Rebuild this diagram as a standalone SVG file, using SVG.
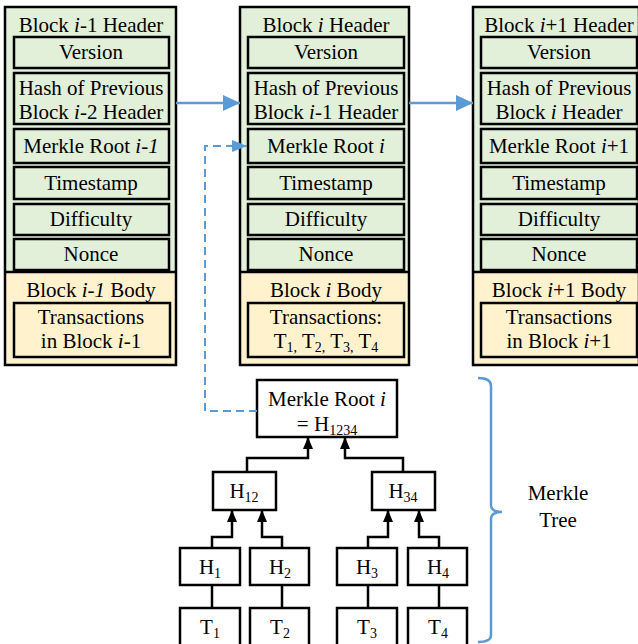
<svg xmlns="http://www.w3.org/2000/svg" width="638" height="644" viewBox="0 0 638 644">
<style>
text{font-family:'Liberation Serif',serif;font-size:21px;fill:#000;text-anchor:middle}
.it{font-style:italic}
.sub{font-size:14px}
.outer{stroke:#000;stroke-width:2.5;fill:none}
.hdr{fill:#E2EFD9}
.body{fill:#FFF2CC}
.fld{fill:#E2EFD9;stroke:#000;stroke-width:2.5}
.bfld{fill:#FFF2CC;stroke:#000;stroke-width:2.5}
.tn{fill:#fff;stroke:#000;stroke-width:2.5}
.blue{stroke:#5B9BD5;stroke-width:2.5;fill:none}
.dash{stroke:#5B9BD5;stroke-width:2;fill:none;stroke-dasharray:8 5}
.blk{stroke:#000;stroke-width:2.5;fill:none}
</style>
<defs>
<marker id="ab" viewBox="0 0 17 16" refX="17" refY="8" markerWidth="17" markerHeight="16" markerUnits="userSpaceOnUse" orient="auto">
<path d="M0,0 L17,8 L0,16 Z" fill="#5B9BD5"/>
</marker>
<marker id="ad" viewBox="0 0 15 12" refX="15" refY="6" markerWidth="15" markerHeight="12" markerUnits="userSpaceOnUse" orient="auto">
<path d="M0,0 L15,6 L0,12 Z" fill="#5B9BD5"/>
</marker>
<marker id="ak" viewBox="0 0 12 10" refX="12" refY="5" markerWidth="12" markerHeight="10" markerUnits="userSpaceOnUse" orient="auto">
<path d="M0,0 L12,5 L0,10 Z" fill="#000"/>
</marker>
</defs>
<rect width="638" height="644" fill="#fff"/>
<g font-family="Liberation Serif, serif">

<g id="block-prev">
<rect class="hdr" x="5" y="7" width="171" height="265"/>
<rect class="body" x="5" y="272" width="171" height="93"/>
<rect class="outer" x="5" y="7" width="171" height="358"/>
<line class="outer" x1="5" y1="272" x2="176" y2="272"/>
<text x="91" y="32">Block <tspan class="it">i</tspan>-1 Header</text>
<rect class="fld" x="14" y="37" width="155" height="31"/>
<text x="91" y="59">Version</text>
<rect class="fld" x="14" y="73" width="155" height="51"/>
<text x="91" y="95">Hash of Previous</text>
<text x="91" y="119">Block <tspan class="it">i</tspan>-2 Header</text>
<rect class="fld" x="14" y="129" width="155" height="34"/>
<text x="91" y="153">Merkle Root <tspan class="it">i-1</tspan></text>
<rect class="fld" x="14" y="167" width="155" height="32"/>
<text x="91" y="190">Timestamp</text>
<rect class="fld" x="14" y="204" width="155" height="31"/>
<text x="91" y="226">Difficulty</text>
<rect class="fld" x="14" y="239" width="155" height="31"/>
<text x="91" y="261">Nonce</text>
<text x="91" y="297">Block <tspan class="it">i-1</tspan> Body</text>
<rect class="bfld" x="14" y="303" width="156" height="54"/>
<text x="91" y="324">Transactions</text>
<text x="91" y="348">in Block <tspan class="it">i</tspan>-1</text>
</g>

<g id="block-cur">
<rect class="hdr" x="240" y="7" width="169" height="265"/>
<rect class="body" x="240" y="272" width="169" height="93"/>
<rect class="outer" x="240" y="7" width="169" height="358"/>
<line class="outer" x1="240" y1="272" x2="409" y2="272"/>
<text x="326" y="32">Block <tspan class="it">i</tspan> Header</text>
<rect class="fld" x="248" y="37" width="156" height="31"/>
<text x="326" y="59">Version</text>
<rect class="fld" x="248" y="73" width="156" height="51"/>
<text x="326" y="95">Hash of Previous</text>
<text x="326" y="119">Block <tspan class="it">i</tspan>-1 Header</text>
<rect class="fld" x="248" y="129" width="156" height="34"/>
<text x="326" y="153">Merkle Root <tspan class="it">i</tspan></text>
<rect class="fld" x="248" y="167" width="156" height="32"/>
<text x="326" y="190">Timestamp</text>
<rect class="fld" x="248" y="204" width="156" height="31"/>
<text x="326" y="226">Difficulty</text>
<rect class="fld" x="248" y="239" width="156" height="31"/>
<text x="326" y="261">Nonce</text>
<text x="326" y="297">Block <tspan class="it">i</tspan> Body</text>
<rect class="bfld" x="248" y="303" width="156" height="54"/>
<text x="326" y="324">Transactions:</text>
<text x="326" y="348">T<tspan class="sub" dy="4">1,</tspan><tspan dy="-4"> T</tspan><tspan class="sub" dy="4">2,</tspan><tspan dy="-4"> T</tspan><tspan class="sub" dy="4">3,</tspan><tspan dy="-4"> T</tspan><tspan class="sub" dy="4">4</tspan></text>
</g>

<g id="block-next">
<rect class="hdr" x="473" y="7" width="166" height="265"/>
<rect class="body" x="473" y="272" width="166" height="93"/>
<rect class="outer" x="473" y="7" width="166" height="358"/>
<line class="outer" x1="473" y1="272" x2="639" y2="272"/>
<text x="559" y="32">Block <tspan class="it">i</tspan>+1 Header</text>
<rect class="fld" x="481" y="37" width="156" height="31"/>
<text x="559" y="59">Version</text>
<rect class="fld" x="481" y="73" width="156" height="51"/>
<text x="559" y="95">Hash of Previous</text>
<text x="559" y="119">Block <tspan class="it">i</tspan> Header</text>
<rect class="fld" x="481" y="129" width="156" height="34"/>
<text x="559" y="153">Merkle Root <tspan class="it">i</tspan>+1</text>
<rect class="fld" x="481" y="167" width="156" height="32"/>
<text x="559" y="190">Timestamp</text>
<rect class="fld" x="481" y="204" width="156" height="31"/>
<text x="559" y="226">Difficulty</text>
<rect class="fld" x="481" y="239" width="156" height="31"/>
<text x="559" y="261">Nonce</text>
<text x="559" y="297">Block <tspan class="it">i</tspan>+1 Body</text>
<rect class="bfld" x="481" y="303" width="156" height="54"/>
<text x="559" y="324">Transactions</text>
<text x="559" y="348">in Block <tspan class="it">i</tspan>+1</text>
</g>

<g id="tree-nodes">
<g id="root"><rect class="tn" x="257" y="380" width="140" height="57"/>
<text x="327" y="406">Merkle Root <tspan class="it">i</tspan></text>
<text x="327" y="431">= H<tspan class="sub" dy="4">1234</tspan></text></g>
<g id="h12"><rect class="tn" x="213" y="472" width="63" height="38"/><text x="244" y="498">H<tspan class="sub" dy="4">12</tspan></text></g>
<g id="h34"><rect class="tn" x="372" y="472" width="63" height="38"/><text x="403" y="498">H<tspan class="sub" dy="4">34</tspan></text></g>
<g id="h1"><rect class="tn" x="180" y="548" width="60" height="37"/><text x="210" y="574">H<tspan class="sub" dy="4">1</tspan></text></g>
<g id="h2"><rect class="tn" x="250" y="548" width="59" height="37"/><text x="280" y="574">H<tspan class="sub" dy="4">2</tspan></text></g>
<g id="h3"><rect class="tn" x="337" y="548" width="60" height="37"/><text x="367" y="574">H<tspan class="sub" dy="4">3</tspan></text></g>
<g id="h4"><rect class="tn" x="408" y="548" width="59" height="37"/><text x="438" y="574">H<tspan class="sub" dy="4">4</tspan></text></g>
<g id="t1"><rect class="tn" x="180" y="608" width="60" height="40"/><text x="210" y="634">T<tspan class="sub" dy="4">1</tspan></text></g>
<g id="t2"><rect class="tn" x="250" y="608" width="59" height="40"/><text x="280" y="634">T<tspan class="sub" dy="4">2</tspan></text></g>
<g id="t3"><rect class="tn" x="337" y="608" width="60" height="40"/><text x="367" y="634">T<tspan class="sub" dy="4">3</tspan></text></g>
<g id="t4"><rect class="tn" x="408" y="608" width="59" height="40"/><text x="438" y="634">T<tspan class="sub" dy="4">4</tspan></text></g>
</g>

<g id="connectors">
<line class="blue" x1="176" y1="103" x2="240" y2="103" marker-end="url(#ab)"/>
<line class="blue" x1="409" y1="103" x2="473" y2="103" marker-end="url(#ab)"/>
<path class="dash" d="M257,411 L205,411 L205,146 L247,146" marker-end="url(#ad)"/>
<path class="blk" d="M247,472 L247,458 L308,458 L308,437" marker-end="url(#ak)"/>
<path class="blk" d="M403,472 L403,458 L345,458 L345,437" marker-end="url(#ak)"/>
<path class="blk" d="M212,548 L212,537 L232,537 L232,510" marker-end="url(#ak)"/>
<path class="blk" d="M282,548 L282,537 L262,537 L262,510" marker-end="url(#ak)"/>
<path class="blk" d="M368,548 L368,537 L388,537 L388,510" marker-end="url(#ak)"/>
<path class="blk" d="M439,548 L439,537 L419,537 L419,510" marker-end="url(#ak)"/>
<line class="blk" x1="212" y1="585" x2="212" y2="608"/>
<line class="blk" x1="282" y1="585" x2="282" y2="608"/>
<line class="blk" x1="368" y1="585" x2="368" y2="608"/>
<line class="blk" x1="439" y1="585" x2="439" y2="608"/>
</g>

<g id="brace">
<path class="blue" d="M478,378 Q491,378 491,386 L491,505 Q491,512 502,512 Q491,512 491,519 L491,635 Q491,642 478,642"/>
<text x="558" y="500">Merkle</text>
<text x="558" y="527">Tree</text>
</g>
</g>
</svg>
